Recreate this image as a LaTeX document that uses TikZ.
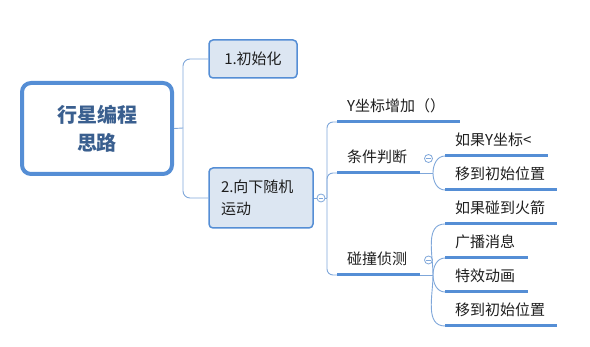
\documentclass[tikz,border=0pt]{standalone}
\usepackage{fontspec}
\newfontfamily\cjk{Noto Sans CJK SC}
\definecolor{bord}{HTML}{558ED5}
\definecolor{conncol}{HTML}{7FA7DA}
\definecolor{boxfill}{HTML}{DCE6F2}
\definecolor{roottxt}{HTML}{3A5F8F}
\definecolor{txt}{HTML}{1E1E1E}
\tikzset{
  rootbox/.style={draw=bord, line width=4pt, rounded corners=9pt, fill=white,
    minimum width=150pt, minimum height=91pt, align=center, text=roottxt,
    font=\cjk\bfseries\fontsize{20}{28}\selectfont},
  subbox/.style={draw=bord, line width=1.5pt, rounded corners=4pt, fill=boxfill,
    text=txt, font=\cjk\fontsize{15}{22}\selectfont},
  leaf/.style={anchor=south west, inner xsep=10pt, inner ysep=0pt, minimum height=32pt,
    align=left, text=txt, font=\cjk\fontsize{15}{18}\selectfont},
  uline/.style={draw=bord, line width=3pt},
  conn/.style={draw=conncol, line width=0.9pt},
  fold/.style={circle, draw=conncol, fill=white, line width=0.8pt, minimum size=8pt, inner sep=0pt,
    path picture={\draw[conncol, line width=0.8pt] ([xshift=-2.2pt]path picture bounding box.center) -- ([xshift=2.2pt]path picture bounding box.center);}}
}
\begin{document}
\begin{tikzpicture}[x=1pt,y=-1pt]
\useasboundingbox (0,0) rectangle (590,347);
% main nodes
\node[rootbox] (root) at (97,128.5) {行星编程\\思路};
\node[subbox, minimum width=88pt, minimum height=38pt] (n1) at (253,59) {1.初始化};
\node[subbox, minimum width=104pt, minimum height=60pt, text width=80pt, align=left] (n2) at (261,198) {2.向下随机\\运动};
% root connectors
\coordinate (rj) at (183,128);
\draw[conn] (root.east) -- (rj);
\draw[conn, rounded corners=7pt] (rj) |- (n1.west);
\draw[conn, rounded corners=7pt] (rj) |- (n2.west);
% fold circle of n2
\node[fold] (f2) at (321,198) {};
\coordinate (tj) at (327,198);
\draw[conn] (n2.east) -- (f2.west);
\draw[conn] (f2.east) -- (tj);
% level 2 leaves
\node[leaf, text width=103pt] (a1) at (337,122) {Y坐标增加（）};
\node[leaf, text width=63pt] (a2) at (337,173) {条件判断};
\node[leaf, text width=63pt] (a3) at (337,275) {碰撞侦测};
\draw[conn, rounded corners=6pt] (tj) |- (a1.south west);
\draw[conn, rounded corners=6pt] (tj) |- (a2.south west);
\draw[conn, rounded corners=6pt] (tj) |- (a3.south west);
\foreach \n in {a1,a2,a3} \draw[uline] (\n.south west) -- (\n.south east);
% fold circles
\node[fold] (f3) at (428.5,158.5) {};
\node[fold] (f4) at (428.5,260) {};
% level 3 under 条件判断
\node[leaf, text width=83pt] (b1) at (445,156) {如果Y坐标<};
\node[leaf, text width=92pt] (b2) at (445,190) {移到初始位置};
\coordinate (j2) at (433,173);
\draw[conn] (a2.south east) -- (j2);
\draw[conn] (j2) to[out=90,in=180] (b1.south west);
\draw[conn] (j2) to[out=-90,in=180] (b2.south west);
% level 3 under 碰撞侦测
\node[leaf, text width=92pt] (c1) at (445,224) {如果碰到火箭};
\node[leaf, text width=63pt] (c2) at (445,258) {广播消息};
\node[leaf, text width=63pt] (c3) at (445,292) {特效动画};
\node[leaf, text width=92pt] (c4) at (445,326) {移到初始位置};
\coordinate (j3) at (433,275);
\draw[conn] (a3.south east) -- (j3);
\draw[conn] (j3) to[out=90,in=180] (c1.south west);
\draw[conn] (j3) to[out=90,in=180] (c2.south west);
\draw[conn] (j3) to[out=-90,in=180] (c3.south west);
\draw[conn] (j3) to[out=-90,in=180] (c4.south west);
\foreach \n in {b1,b2,c1,c2,c3,c4} \draw[uline] (\n.south west) -- (\n.south east);
\end{tikzpicture}
\end{document}
